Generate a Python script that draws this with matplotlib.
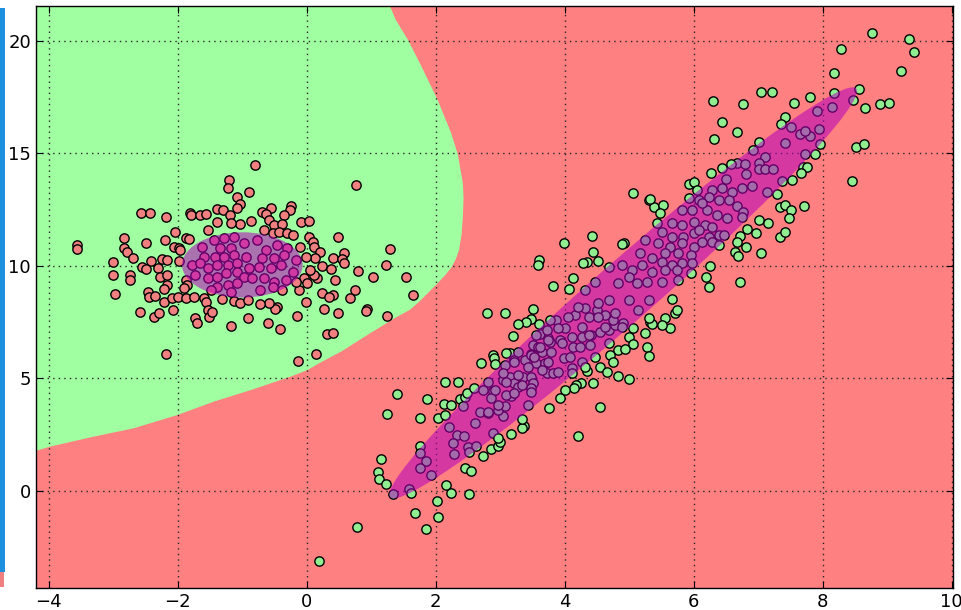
import numpy as np
import matplotlib
matplotlib.use("Agg")
import matplotlib.pyplot as plt
from matplotlib.patches import Ellipse, Rectangle

# points of the first class (round cluster on the left)
red_points = [
    (-1.21, 13.81), (-1.22, 13.47), (-1.09, 13.07), (-1.03, 12.73), (-1.09, 12.55),
    (-2.57, 12.33), (-2.43, 12.36), (-2.18, 12.15), (-1.81, 12.36), (-1.80, 12.26),
    (-1.65, 12.24), (-1.57, 12.29), (-1.40, 12.51), (-1.30, 12.46), (-1.19, 12.26),
    (-1.03, 11.86), (-1.18, 11.92), (-1.40, 11.94), (-1.53, 11.59), (-2.04, 11.52),
    (-2.84, 11.23), (-2.50, 11.00), (-2.20, 11.15), (-1.88, 11.22), (-1.83, 11.18),
    (-2.84, 10.78), (-2.79, 10.63), (-2.70, 10.33), (-3.00, 10.18), (-2.42, 10.21),
    (-2.24, 10.30), (-2.17, 10.26), (-2.06, 10.85), (-1.99, 10.78), (-1.96, 10.70),
    (-2.56, 9.96), (-2.49, 9.86), (-2.31, 9.92), (-1.99, 10.21), (-3.01, 9.59),
    (-2.75, 9.59), (-2.75, 9.37), (-2.28, 9.52), (-2.17, 9.59), (-2.17, 9.15),
    (-2.22, 8.96), (-1.88, 9.37), (-1.86, 9.15), (-2.46, 8.85), (-2.44, 8.63),
    (-2.35, 8.66), (-2.22, 8.41), (-2.09, 8.56), (-2.00, 8.63), (-1.91, 9.00),
    (-1.87, 8.56), (-1.75, 8.63), (-1.60, 8.56), (-1.56, 8.41), (-1.53, 8.04),
    (-1.52, 7.74), (-1.47, 7.96), (-1.32, 8.53), (-1.13, 8.44), (-1.04, 8.36),
    (-2.97, 8.75), (-2.59, 7.95), (-2.37, 7.74), (-2.30, 7.92), (-2.07, 8.04),
    (-1.74, 7.67), (-1.70, 7.45), (-1.18, 7.34), (-0.91, 7.67), (-2.19, 6.07),
    (-3.57, 10.92), (-3.56, 10.73), (-0.92, 8.48),
    (-1.62, 10.85), (-1.44, 11.15), (-1.29, 11.22), (-1.13, 11.26), (-0.97, 11.00),
    (-1.34, 10.78), (-1.18, 10.78), (-1.60, 10.41), (-1.42, 10.41), (-1.29, 10.41),
    (-1.13, 10.48), (-0.95, 10.41), (-1.78, 10.04), (-1.65, 10.11), (-1.54, 9.89),
    (-1.39, 10.04), (-1.23, 10.04), (-1.08, 10.11), (-1.73, 9.59), (-1.54, 9.44),
    (-1.39, 9.52), (-1.26, 9.67), (-1.08, 9.74), (-0.97, 9.52), (-1.39, 9.07),
    (-1.23, 9.15), (-1.08, 9.22), (-1.49, 8.93), (-1.18, 8.85),
    (-0.81, 14.49), (-0.89, 13.29), (0.76, 13.59), (-0.25, 12.66), (-0.26, 12.48),
    (-0.56, 12.55), (-0.70, 12.39), (-0.63, 12.30), (-0.35, 12.26), (-0.59, 12.03),
    (-0.86, 12.00), (-0.09, 11.93), (0.04, 11.97), (-0.51, 11.81), (-0.39, 11.86),
    (-0.66, 11.59), (-0.53, 11.47), (-0.43, 11.52), (-0.30, 11.47), (-0.22, 11.37),
    (0.04, 11.26), (0.09, 11.07), (0.11, 10.85), (0.20, 10.63), (0.13, 10.33),
    (-0.02, 10.41), (-0.11, 10.85), (0.48, 11.26), (0.58, 10.55), (0.40, 10.36),
    (0.54, 10.32), (0.58, 10.11), (0.24, 9.99), (0.37, 9.86), (0.79, 9.78),
    (1.02, 9.52), (1.23, 10.04), (1.29, 10.76), (1.54, 9.49), (1.64, 8.70),
    (0.43, 9.37), (0.15, 9.44), (0.11, 9.59), (0.05, 9.81), (-0.04, 9.44),
    (-0.12, 8.93), (0.01, 9.22), (0.24, 8.81), (0.41, 8.70), (0.67, 8.58),
    (0.74, 8.93), (0.34, 8.63), (-0.02, 8.38), (0.26, 8.10), (0.49, 7.89),
    (0.94, 8.07), (0.92, 7.98), (1.24, 7.77), (-0.16, 7.79), (-0.46, 8.19),
    (-0.49, 8.07), (-0.59, 8.33), (-0.73, 8.30), (-0.60, 7.45), (-0.42, 7.18),
    (0.31, 6.97), (0.40, 7.03), (0.14, 6.08), (-0.13, 5.79),
    (-0.77, 11.15), (-0.64, 10.70), (-0.46, 10.92), (-0.30, 10.78), (-0.69, 10.33),
    (-0.51, 10.33), (-0.35, 10.48), (-0.17, 10.26), (-0.90, 9.89), (-0.74, 9.96),
    (-0.56, 9.89), (-0.40, 10.04), (-0.22, 9.74), (-0.85, 9.44), (-0.66, 9.44),
    (-0.51, 9.30), (-0.33, 9.37), (-0.17, 9.30), (-0.72, 8.93), (-0.53, 9.07),
    (-0.38, 8.93),
]

# points of the second class (long diagonal cluster)
green_points = [
    (3.19, 6.88), (2.89, 6.04), (2.90, 5.92), (2.92, 5.62), (3.15, 6.14),
    (2.70, 5.67), (2.14, 4.83), (2.34, 4.83), (1.40, 4.31), (1.87, 4.07),
    (2.13, 3.86), (2.24, 3.82), (2.37, 4.09), (2.45, 4.19), (2.49, 4.37),
    (2.59, 4.56), (1.24, 3.40), (1.76, 3.26), (2.04, 3.23), (2.15, 3.37),
    (1.15, 1.41), (1.10, 0.86), (1.12, 0.52), (1.23, 0.31), (1.33, -0.15),
    (1.76, 2.01), (1.75, 1.67), (2.16, 0.27), (2.24, -0.10), (2.51, -0.15),
    (2.02, -0.44), (1.67, -0.99), (2.04, -1.17), (1.85, -1.67), (0.78, -1.58),
    (2.45, 1.01), (2.54, 0.89), (2.73, 1.55), (2.86, 1.85), (2.97, 2.01),
    (3.17, 2.53), (3.37, 2.90), (3.75, 3.67), (0.19, -3.11),
    (4.55, 3.72), (4.20, 2.46), (3.33, 2.78), (2.99, 2.19),
    (2.20, 2.86), (2.33, 2.49), (2.44, 2.44), (2.27, 2.12), (2.50, 1.97),
    (2.63, 2.00), (2.28, 1.63), (2.51, 1.72), (1.85, 1.33), (1.75, 1.04),
    (1.92, 0.71), (1.58, 0.09), (1.62, -0.10), (2.60, 3.00), (2.68, 3.49),
    (2.81, 3.48), (3.04, 3.33), (2.89, 2.56), (2.97, 2.34), (2.42, 3.77),
    (2.73, 4.48), (2.89, 4.44), (2.86, 4.11), (2.81, 4.85), (3.04, 4.93),
    (2.97, 3.60), (3.08, 3.77), (3.17, 4.22), (3.15, 5.08), (3.22, 4.81),
    (3.35, 5.08), (3.48, 5.08), (3.51, 4.81), (3.48, 4.56), (3.28, 4.60),
    (3.43, 3.82), (3.33, 3.18), (3.07, 5.60), (3.22, 5.82), (3.38, 5.82),
    (3.48, 6.08), (3.56, 5.70), (3.69, 5.67), (3.51, 6.48), (3.61, 6.97),
    (3.74, 6.78), (3.28, 6.19), (3.09, 6.11), (3.72, 5.22), (3.04, 5.22),
    (3.09, 4.26), (3.22, 4.34), (3.33, 4.71), (3.48, 4.41), (2.81, 3.52),
    (2.96, 3.82), (3.48, 6.04), (3.64, 6.19), (3.77, 6.63), (3.92, 6.70),
    (3.82, 5.22), (3.98, 5.89), (4.11, 5.45), (4.26, 5.74), (4.39, 6.48),
    (4.13, 6.41), (4.26, 6.85), (4.41, 6.93), (4.55, 7.07), (4.68, 7.15),
    (4.78, 7.37), (4.91, 7.44), (4.75, 7.59), (4.63, 7.82), (4.50, 8.04),
    (4.31, 8.11), (4.16, 7.82), (4.00, 7.22), (3.87, 7.59), (3.77, 7.59),
    (3.72, 7.15), (3.56, 6.93), (3.59, 6.41),
    (4.42, 11.32), (3.98, 11.03), (4.44, 10.63), (4.92, 11.03), (4.88, 10.95),
    (4.52, 10.21), (4.34, 10.18), (4.29, 10.11), (3.60, 10.26), (3.58, 10.02),
    (4.13, 9.44), (3.81, 9.10), (4.06, 8.96), (5.30, 12.92), (5.38, 12.63),
    (5.52, 12.70), (5.48, 12.36), (2.80, 7.92), (3.08, 7.89), (3.50, 8.07),
    (3.48, 7.62), (3.40, 7.49), (3.28, 7.40), (3.60, 7.42), (5.66, 8.51),
    (5.71, 7.89), (5.74, 8.04), (5.56, 7.67), (5.63, 7.22), (5.50, 7.37),
    (5.32, 7.52), (5.35, 7.42), (5.30, 7.67), (5.06, 7.22), (4.99, 6.85),
    (5.06, 6.53), (5.27, 6.41), (5.30, 5.99), (4.83, 6.26), (4.93, 6.29),
    (4.70, 6.04), (4.75, 5.74), (4.54, 5.52), (4.65, 5.30), (4.82, 5.12),
    (4.99, 4.97), (4.44, 4.78), (4.34, 5.33), (4.25, 4.78), (4.17, 4.71),
    (4.14, 4.56), (4.00, 4.48), (3.93, 4.11),
    (2.91, 4.48), (3.09, 4.86), (3.28, 5.15), (3.22, 5.74), (3.43, 5.52),
    (3.53, 5.97), (3.61, 6.41), (3.74, 6.71), (3.90, 7.22), (3.79, 6.19),
    (3.95, 6.56), (4.11, 6.85), (4.08, 5.97), (4.23, 6.41), (4.37, 6.93),
    (4.26, 7.30), (4.05, 7.74), (4.21, 8.19), (4.37, 7.74), (4.52, 8.33),
    (4.68, 8.48), (4.32, 8.93), (4.47, 9.30), (4.68, 9.96), (4.99, 8.48),
    (4.78, 7.89), (4.62, 7.30), (4.52, 7.74), (4.88, 7.30), (4.68, 6.56),
    (4.47, 5.97), (4.31, 5.52), (4.11, 5.22), (3.90, 5.30), (3.74, 5.74),
    (3.64, 5.37), (5.24, 7.00), (5.14, 8.04), (5.30, 8.48),
    (6.30, 17.33), (6.32, 15.62), (6.26, 14.14), (5.92, 13.63), (6.00, 13.71),
    (5.05, 13.25), (5.32, 12.95), (6.44, 14.33), (7.71, 12.66), (7.29, 13.19),
    (7.34, 12.60), (7.42, 12.70), (7.51, 12.48), (7.47, 12.11), (7.01, 12.03),
    (7.15, 11.92), (6.83, 11.62), (6.96, 11.44), (6.72, 11.32), (6.67, 11.07),
    (6.81, 10.85), (7.05, 10.58), (7.34, 11.26), (7.41, 11.52), (6.64, 10.63),
    (6.68, 10.43), (6.25, 9.99), (6.19, 9.49), (6.24, 9.07), (6.71, 9.27),
    (6.60, 13.29), (6.44, 13.44), (6.28, 13.37), (6.05, 13.37), (5.92, 13.00),
    (6.08, 12.92), (6.23, 13.07), (6.39, 12.92), (6.54, 12.92), (6.67, 12.66),
    (6.77, 12.40), (6.75, 12.18), (6.52, 12.11), (6.36, 12.26), (6.21, 12.48),
    (6.13, 12.77), (5.97, 12.48), (5.82, 12.48), (5.66, 11.89), (5.82, 11.81),
    (6.00, 11.96), (6.18, 11.81), (6.39, 11.37), (6.23, 11.29), (6.00, 11.44),
    (5.84, 11.29), (5.66, 11.29), (5.51, 11.52), (5.43, 11.89), (5.25, 11.15),
    (5.45, 11.00), (5.63, 10.85), (5.82, 11.00), (6.00, 10.85), (6.13, 11.07),
    (6.28, 11.07), (6.39, 10.92), (6.47, 11.37), (5.56, 10.55), (5.76, 10.55),
    (5.95, 10.48), (5.82, 10.11), (5.66, 10.04), (5.51, 10.18), (5.35, 10.33),
    (5.17, 10.55), (5.20, 10.04), (5.04, 9.81), (4.88, 10.04), (5.35, 9.74),
    (5.56, 9.81), (5.74, 9.81), (5.97, 10.11), (5.95, 9.67), (5.76, 9.37),
    (5.51, 9.30), (5.27, 9.30), (5.12, 9.25), (4.99, 9.51), (4.83, 9.22),
    (6.08, 11.59), (6.28, 11.74), (7.14, 13.29),
    (8.76, 20.35), (9.34, 20.06), (9.41, 19.51), (8.28, 19.61), (8.18, 18.55),
    (9.22, 18.65), (7.05, 17.70), (7.22, 17.73), (6.77, 17.17), (7.55, 17.24),
    (7.81, 17.48), (8.56, 17.84), (8.47, 17.36), (8.66, 16.99), (8.89, 17.19),
    (9.02, 17.21), (6.67, 15.96), (6.44, 16.40), (7.42, 16.62), (7.96, 15.39),
    (7.88, 14.95), (8.52, 15.26), (8.64, 15.39), (8.46, 13.78), (7.70, 14.40),
    (7.76, 14.40), (7.66, 14.14), (7.53, 13.81),
    (8.18, 17.69), (8.15, 17.04), (7.91, 16.89), (7.94, 16.07), (7.80, 15.76),
    (7.64, 15.85), (7.72, 16.00), (7.51, 16.15), (7.36, 16.30), (7.42, 15.44),
    (7.01, 15.51), (6.92, 15.14), (7.10, 14.85), (7.72, 14.96), (6.67, 14.55),
    (6.57, 14.52), (6.79, 14.52), (7.01, 14.55), (7.01, 14.30), (7.10, 14.30),
    (7.23, 14.30), (6.81, 14.08), (6.50, 13.84), (7.37, 13.78), (6.91, 13.56),
    (6.75, 13.44),
]

# edge of the green decision region (x of the edge for each y)
boundary_y = [-5.0, 1.78, 1.97, 2.41, 2.78, 3.37, 3.97, 4.48, 5.08, 5.37, 5.67, 6.22,
              6.93, 7.67, 8.05, 8.40, 8.80, 9.20, 9.60, 9.96, 10.30, 10.70, 11.40,
              12.18, 13.00, 13.66, 14.96, 15.88, 17.36, 18.84, 20.03, 20.92, 21.60, 22.5]
boundary_x = [-4.20, -4.20, -3.98, -3.31, -2.69, -2.01, -1.44, -0.87, -0.25, 0.01, 0.19, 0.55,
              0.94, 1.36, 1.60, 1.74, 1.88, 2.02, 2.15, 2.25, 2.31, 2.36, 2.40,
              2.42, 2.43, 2.42, 2.34, 2.24, 2.03, 1.78, 1.57, 1.38, 1.28, 1.15]

# fitted gaussians: centre, width, height, angle
ell_centers = [(-1.0, 10.04), (4.905, 8.80)]
ell_widths = [1.87, 19.6]
ell_heights = [2.90, 1.3]
ell_angles = [0.0, 68.6]

x_ticks = [-4, -2, 0, 2, 4, 6, 8, 10]
y_ticks = [0, 5, 10, 15, 20]

fig = plt.figure(figsize=(9.61, 6.10), dpi=100)
ax = fig.add_axes([36 / 961, 22 / 610, 917 / 961, 582 / 610])

ax.set_facecolor("#FF8080")
ax.fill_betweenx(boundary_y, -5, boundary_x, color="#A0FFA0", lw=0, zorder=0)

rp = np.array(red_points)
gp = np.array(green_points)
ax.scatter(rp[:, 0], rp[:, 1], s=45, c="#F08080", edgecolors="k", linewidths=1, zorder=2)
ax.scatter(gp[:, 0], gp[:, 1], s=45, c="#90EE90", edgecolors="k", linewidths=1, zorder=2)

for c, w, h, a in zip(ell_centers, ell_widths, ell_heights, ell_angles):
    e = Ellipse(c, w, h, angle=a, facecolor="#B400BE", edgecolor="none", alpha=0.55, zorder=3)
    ax.add_patch(e)

ax.set_xlim(-4.2, 10.02)
ax.set_ylim(-4.31, 21.54)
ax.set_xticks(x_ticks)
ax.set_yticks(y_ticks)
ax.set_axisbelow(True)
ax.grid(True, color="0.15", linestyle=(0, (1, 3)), linewidth=1.0)
ax.tick_params(direction="in", top=True, right=True, length=5, labelsize=13, pad=3.6)
for s in ax.spines.values():
    s.set_linewidth(1.0)

# strip of a neighbouring window at the left edge of the screenshot
fig.patches.append(Rectangle((0, 38 / 610), 5 / 961, 564 / 610, transform=fig.transFigure,
                             facecolor="#1E90E0", edgecolor="none"))
fig.patches.append(Rectangle((0, 23 / 610), 4 / 961, 15 / 610, transform=fig.transFigure,
                             facecolor="#F08080", edgecolor="none"))

fig.savefig("out.png", dpi=100)
